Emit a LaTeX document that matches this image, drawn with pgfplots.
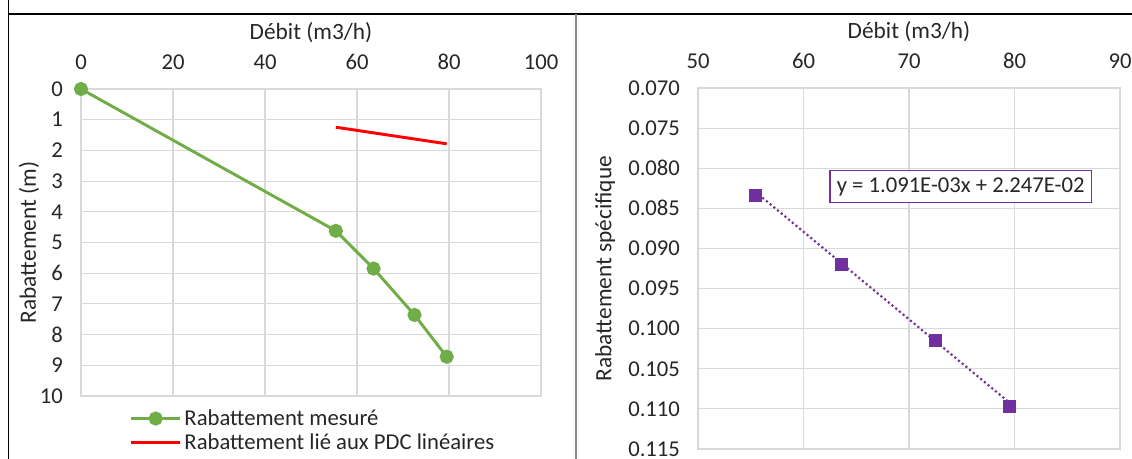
\documentclass[border=0pt]{standalone}
\usepackage{pgfplots}
\pgfplotsset{compat=1.18}
\usepackage{fontspec}
\setmainfont{Carlito}
\definecolor{exgreen}{HTML}{70AD47}
\definecolor{expurple}{HTML}{7030A0}
\definecolor{gridgray}{HTML}{D9D9D9}
\definecolor{txt}{HTML}{262626}
\pgfplotsset{
  excel/.style={
    scale only axis,
    grid=major,
    major grid style={gridgray, line width=0.8pt},
    axis line style={gridgray, line width=0.8pt},
    major tick length=0pt,
    y dir=reverse,
    xticklabel pos=upper,
    /pgf/number format/assume math mode=true,
    tick label style={font=\fontsize{17}{19}\selectfont, text=txt},
    label style={font=\fontsize{17.5}{20}\selectfont, text=txt},
    xticklabel style={yshift=11pt},
    yticklabel style={xshift=-10pt},
    x label style={at={(axis description cs:0.5,1)}, anchor=base, yshift=37pt},
  }
}
\begin{document}
\begin{tikzpicture}
\useasboundingbox (0pt,0pt) rectangle (849pt,344.25pt);
\draw[black, line width=0.9pt] (6.5pt,360pt) -- (6.5pt,333.75pt) -- (860pt,333.75pt);
\draw[black, line width=0.9pt] (6.5pt,333.75pt) -- (6.5pt,-10pt);
\draw[black!45, line width=0.8pt] (432pt,333.75pt) -- (432pt,-10pt);

\begin{axis}[excel,
  at={(60.75pt,47.25pt)}, anchor=south west,
  width=345pt, height=230.25pt,
  xmin=0, xmax=100, ymin=0, ymax=10,
  xtick={0,20,40,60,80,100}, ytick={0,1,2,3,4,5,6,7,8,9,10},
  xlabel={Débit (m3/h)}, ylabel={Rabattement (m)},
  y label style={at={(axis description cs:-0.113,0.5)}, anchor=center},
  legend style={draw=none, fill=none, at={(0.105,-0.035)}, anchor=north west,
    font=\fontsize{17}{19}\selectfont, text=txt, row sep=1pt,
    cells={anchor=west}, inner sep=0pt},
  legend image code/.code={\draw[mark repeat=2,mark phase=2,#1] plot coordinates {(0cm,0cm) (0.65cm,0cm) (1.3cm,0cm)};},
]
\addplot[exgreen, line width=2.2pt, mark=*, mark size=4.2pt, mark options={fill=exgreen, draw=exgreen}]
  coordinates {(0,0) (55.4,4.62) (63.6,5.85) (72.5,7.36) (79.5,8.72)};
\addlegendentry{Rabattement mesuré}
\addplot[red, line width=2.2pt, no marks]
  coordinates {(55.4,1.245) (79.5,1.786)};
\addlegendentry{Rabattement lié aux PDC linéaires}
\end{axis}

\begin{axis}[excel,
  at={(523.5pt,7.5pt)}, anchor=south west,
  width=316.5pt, height=270.75pt,
  xmin=50, xmax=90, ymin=0.070, ymax=0.115,
  xtick={50,60,70,80,90},
  ytick={0.070,0.075,0.080,0.085,0.090,0.095,0.100,0.105,0.110,0.115},
  scaled y ticks=false,
  yticklabel style={/pgf/number format/.cd, fixed, fixed zerofill, precision=3},
  xlabel={Débit (m3/h)}, ylabel={Rabattement spécifique},
  y label style={at={(axis description cs:-0.22,0.5)}, anchor=center},
]
\addplot[expurple, line width=1.6pt, dotted, no marks]
  coordinates {(55.4,0.0829) (79.5,0.1092)};
\addplot[only marks, mark=square*, mark size=4.5pt, mark options={fill=expurple, draw=expurple}]
  coordinates {(55.4,0.0834) (63.6,0.0920) (72.5,0.1015) (79.5,0.1097)};
\node[draw=expurple, line width=1pt, fill=white, text=txt, font=\fontsize{17}{19}\selectfont, inner xsep=5pt, inner ysep=5pt]
  at (axis cs:74.9,0.0823) {y = 1.091E-03x + 2.247E-02};
\end{axis}
\end{tikzpicture}
\end{document}
